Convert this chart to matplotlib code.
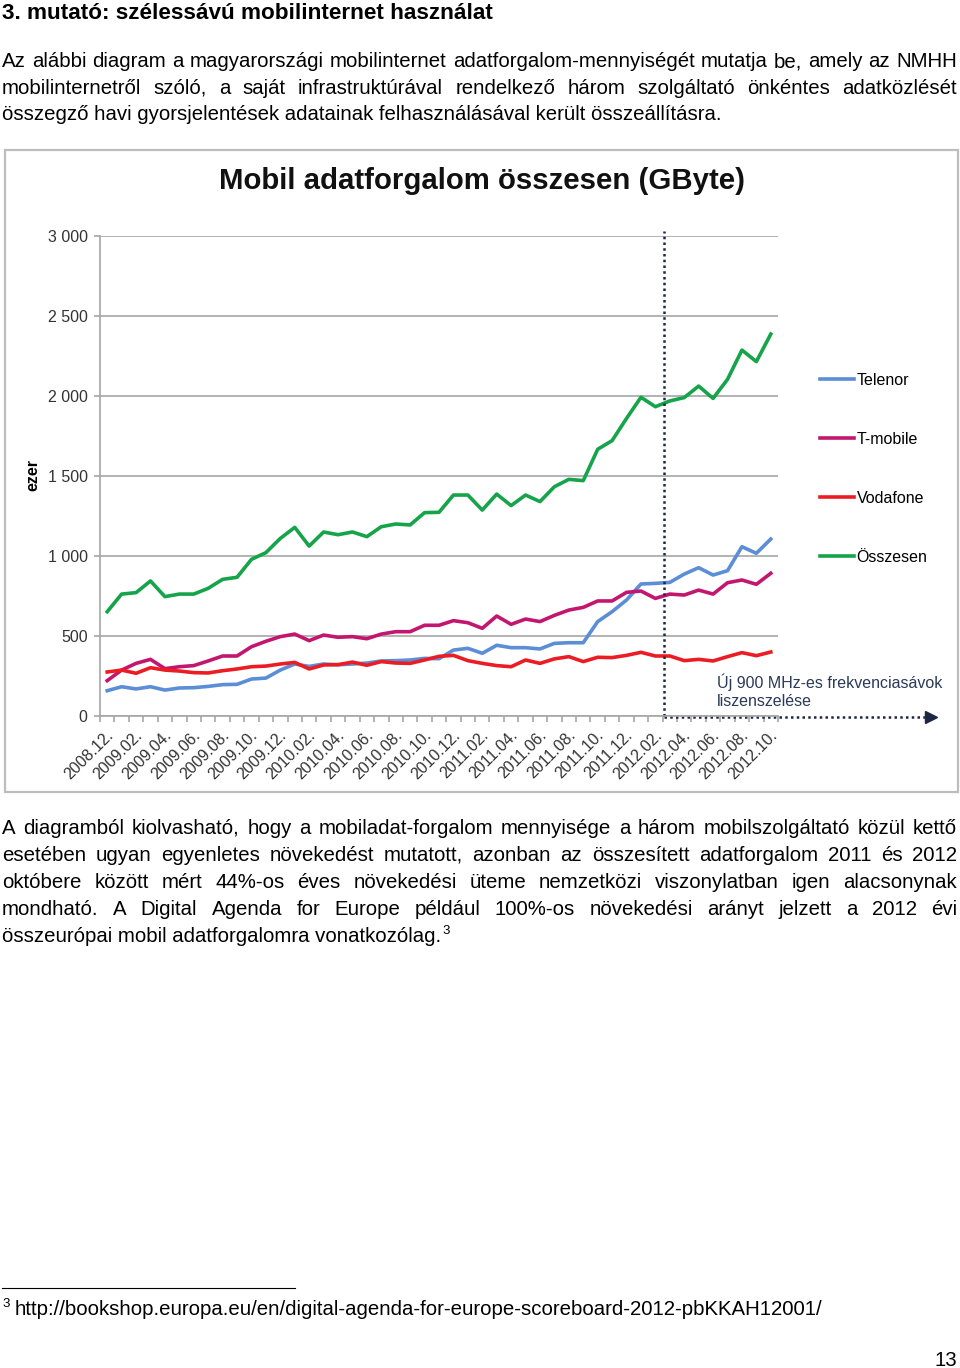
import matplotlib.pyplot as plt
import numpy as np
from matplotlib.patches import Rectangle
from matplotlib.lines import Line2D
from matplotlib.transforms import ScaledTranslation

plt.rcParams['font.family'] = ['Liberation Sans', 'DejaVu Sans']

# adatok (GByte, ezer) 2008.12 - 2012.10, havi
honapok = list(range(47))
cimkek = ['2008.12.', '2009.02.', '2009.04.', '2009.06.', '2009.08.', '2009.10.',
          '2009.12.', '2010.02.', '2010.04.', '2010.06.', '2010.08.', '2010.10.',
          '2010.12.', '2011.02.', '2011.04.', '2011.06.', '2011.08.', '2011.10.',
          '2011.12.', '2012.02.', '2012.04.', '2012.06.', '2012.08.', '2012.10.']
telenor = [158, 183, 169, 183, 162, 175, 177, 185, 196, 198,
           231, 237, 287, 325, 310, 325, 320, 325, 331, 344,
           346, 350, 360, 358, 412, 423, 392, 442, 427, 427,
           419, 454, 458, 458, 590, 652, 725, 825, 829, 835,
           887, 927, 881, 908, 1058, 1017, 1106]
tmobile = [221, 287, 329, 354, 296, 308, 315, 344, 375, 375,
           433, 467, 496, 512, 471, 506, 492, 496, 483, 512,
           527, 527, 567, 567, 596, 583, 548, 625, 573, 606,
           590, 629, 662, 679, 719, 719, 773, 781, 735, 762,
           756, 787, 762, 833, 850, 823, 892]
vodafone = [275, 287, 267, 302, 287, 281, 271, 269, 283, 294,
            308, 312, 325, 335, 294, 319, 321, 337, 317, 340,
            331, 329, 350, 373, 379, 346, 329, 315, 308, 350,
            329, 357, 371, 340, 367, 365, 379, 398, 375, 375,
            346, 354, 344, 371, 396, 377, 400]
osszesen = [652, 762, 771, 844, 746, 762, 762, 798, 854, 867,
            979, 1021, 1110, 1179, 1062, 1150, 1133, 1150, 1121, 1183,
            1200, 1194, 1271, 1273, 1381, 1381, 1287, 1387, 1315, 1381,
            1340, 1433, 1479, 1471, 1667, 1721, 1860, 1992, 1933, 1969,
            1990, 2062, 1985, 2104, 2287, 2215, 2387]
hatar = 38.6  # uj 900 MHz-es savok

W, H = 960, 1368
BETU = 14.7
fig = plt.figure(figsize=(W / 100, H / 100), dpi=100)
r = fig.canvas.get_renderer()


def fx(x):
    return x / W


def fy(y):
    return 1 - y / H


# egy sor szoveg, sorkizarva ha kell; visszaadja a sor vegét (px)
def sor(y, szoveg, meret=BETU, x0=2, x1=957, sorkizart=True, **kw):
    if not sorkizart:
        t = fig.text(fx(x0), fy(y), szoveg, fontsize=meret, va='baseline', **kw)
        return t.get_window_extent(r).x1
    szavak = szoveg.split(' ')
    elemek = [fig.text(0, fy(y), s, fontsize=meret, va='baseline', **kw) for s in szavak]
    szel = [t.get_window_extent(r).width for t in elemek]
    koz = (x1 - x0 - sum(szel)) / (len(szavak) - 1)
    x = x0
    for t, w in zip(elemek, szel):
        t.set_x(fx(x))
        x += w + koz
    return x1


sor(19, '3. mutató: szélessávú mobilinternet használat', meret=16.2, sorkizart=False,
    fontweight='bold')
sor(67, 'Az alábbi diagram a magyarországi mobilinternet adatforgalom-mennyiségét mutatja be, amely az NMHH')
sor(94, 'mobilinternetről szóló, a saját infrastruktúrával rendelkező három szolgáltató önkéntes adatközlését')
sor(120, 'összegző havi gyorsjelentések adatainak felhasználásával került összeállításra.', sorkizart=False)

sor(834, 'A diagramból kiolvasható, hogy a mobiladat-forgalom mennyisége a három mobilszolgáltató közül kettő')
sor(861, 'esetében ugyan egyenletes növekedést mutatott, azonban az összesített adatforgalom 2011 és 2012')
sor(888, 'októbere között mért 44%-os éves növekedési üteme nemzetközi viszonylatban igen alacsonynak')
sor(915, 'mondható. A Digital Agenda for Europe például 100%-os növekedési arányt jelzett a 2012 évi')
veg = sor(942, 'összeurópai mobil adatforgalomra vonatkozólag.', sorkizart=False)
fig.text(fx(veg + 1), fy(934), '3', fontsize=9.5, va='baseline')

# labjegyzet
fig.add_artist(Line2D([fx(2), fx(295)], [fy(1288), fy(1288)], color='black', lw=0.8))
fig.text(fx(2), fy(1307), '3', fontsize=9.5, va='baseline')
sor(1315, 'http://bookshop.europa.eu/en/digital-agenda-for-europe-scoreboard-2012-pbKKAH12001/',
    x0=15, sorkizart=False)
fig.text(fx(957), fy(1366), '13', fontsize=BETU, va='baseline', ha='right')

# diagram kerete
fig.add_artist(Rectangle((fx(5), fy(792)), fx(953), (792 - 150) / H, fill=False,
                         edgecolor='#BDBDBD', lw=1.6, transform=fig.transFigure))
fig.text(fx(482), fy(181), 'Mobil adatforgalom összesen (GByte)', fontsize=21.2,
         fontweight='bold', ha='center', va='center', color='#111111')
fig.text(fx(33), fy(475), 'ezer', fontsize=11.5, fontweight='bold', rotation=90,
         ha='center', va='center')

ax = fig.add_axes([fx(100), fy(716), fx(678), 480 / H])
ax.plot(honapok, telenor, color='#5B8ED6', lw=2.6, label='Telenor')
ax.plot(honapok, tmobile, color='#C3176F', lw=2.6, label='T-mobile')
ax.plot(honapok, vodafone, color='#EC1C24', lw=2.6, label='Vodafone')
ax.plot(honapok, osszesen, color='#16A44A', lw=2.6, label='Összesen')

ax.set_xlim(-0.5, 46.5)
ax.set_ylim(0, 3000)
ax.set_yticks(range(0, 3001, 500))
ax.set_yticklabels(['0', '500', '1 000', '1 500', '2 000', '2 500', '3 000'])
ax.yaxis.grid(True, color='#A6A6A6', lw=1.2)
ax.set_axisbelow(True)
for s in ['top', 'right']:
    ax.spines[s].set_visible(False)
ax.spines['left'].set_color('#A6A6A6')
ax.spines['bottom'].set_color('#A6A6A6')
ax.spines['left'].set_linewidth(1.2)
ax.spines['bottom'].set_linewidth(1.2)
ax.tick_params(axis='y', colors='#A6A6A6', labelcolor='#333333', labelsize=11.5,
               length=4, width=1.2, pad=5)
ax.set_xticks(honapok[::2])
ax.set_xticklabels(cimkek, rotation=45, ha='right', va='center', rotation_mode='anchor')
ax.set_xticks(np.arange(-0.5, 47, 1), minor=True)
ax.tick_params(axis='x', which='major', length=0, pad=12, labelsize=11.5, labelcolor='#333333')
ax.tick_params(axis='x', which='minor', length=4, width=1.2, color='#A6A6A6')
eltol = ScaledTranslation(4 / 100, 0, fig.dpi_scale_trans)
for t in ax.get_xticklabels():
    t.set_transform(t.get_transform() + eltol)

# uj frekvenciasavok jelzese
ax.plot([hatar, hatar], [0, 3030], color='#1B2745', lw=1.8, ls=(0, (1, 1.3)), clip_on=False)
ax.plot([hatar, 57.1], [-8, -8], color='#1B2745', lw=1.8, ls=(0, (1, 1.3)), clip_on=False)
ax.plot([57.1], [-8], marker='>', color='#1B2745', ms=8, clip_on=False)
fig.text(fx(717), fy(682), 'Új 900 MHz-es frekvenciasávok', fontsize=11.5,
         color='#2B3A5A', va='center')
fig.text(fx(717), fy(701), 'liszenszelése', fontsize=11.5, color='#2B3A5A', va='center')

ax.legend(loc='upper left', bbox_to_anchor=(fx(820), fy(373)), bbox_transform=fig.transFigure,
          frameon=False, fontsize=11.5, labelspacing=2.75, handlelength=2.1,
          handletextpad=0.2, borderpad=0, borderaxespad=0)

plt.savefig('out.png', dpi=100)
